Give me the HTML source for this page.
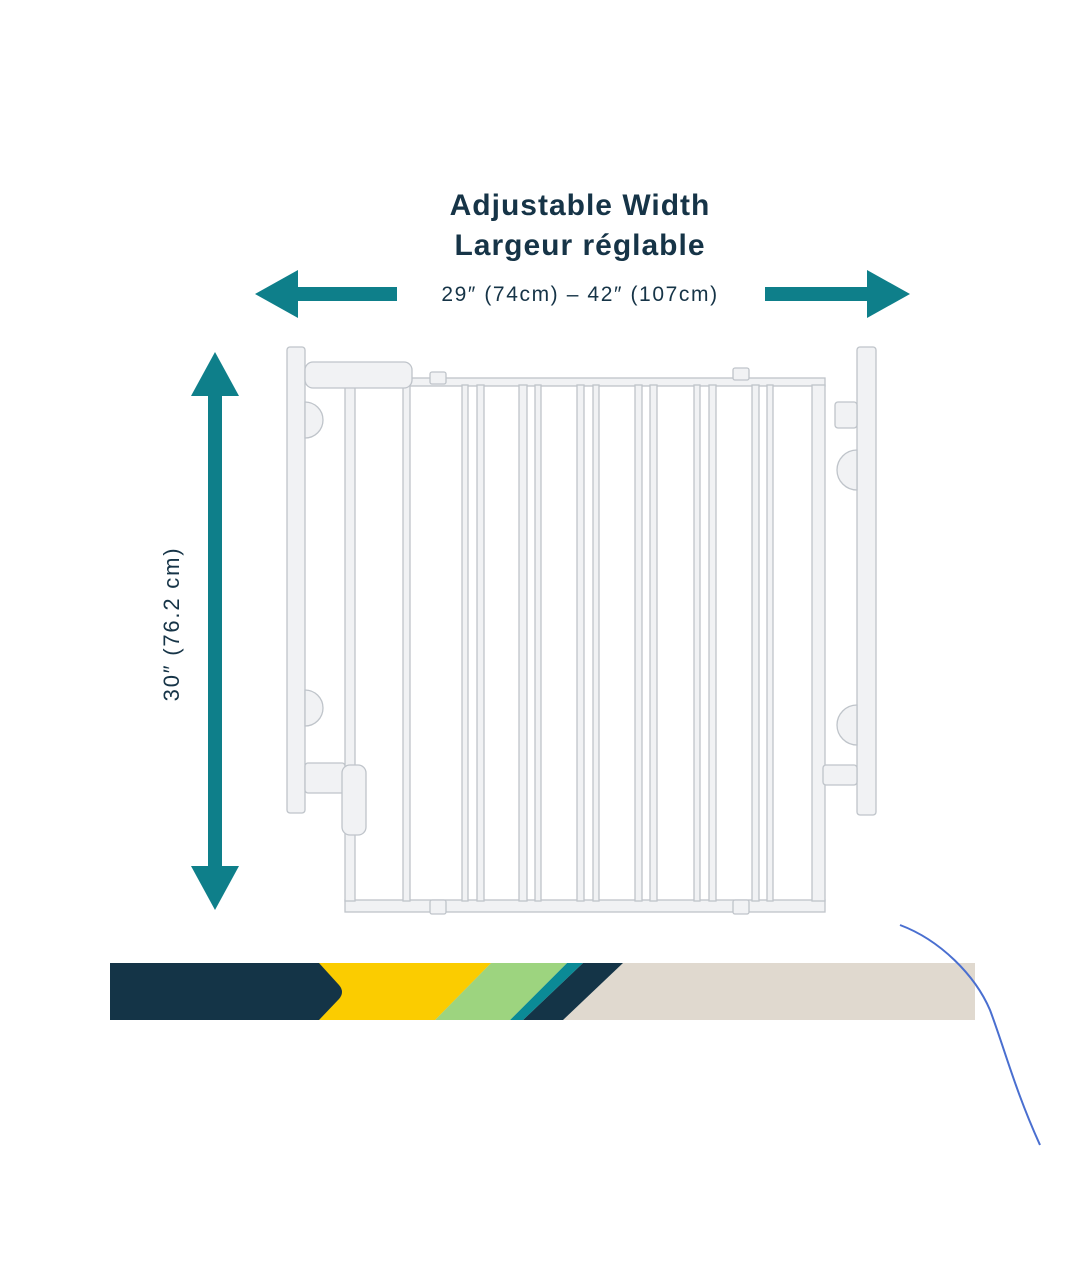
<!DOCTYPE html>
<html><head><meta charset="utf-8"><style>
html,body{margin:0;padding:0;background:#fff;}
body{width:1079px;height:1266px;position:relative;overflow:hidden;font-family:"Liberation Sans",sans-serif;}
</style></head><body>
<svg width="1079" height="1266" viewBox="0 0 1079 1266" xmlns="http://www.w3.org/2000/svg">
<text x="580" y="215" text-anchor="middle" font-family="Liberation Sans, sans-serif" font-weight="bold" font-size="30" letter-spacing="1" fill="#163447">Adjustable Width</text>
<text x="580" y="255" text-anchor="middle" font-family="Liberation Sans, sans-serif" font-weight="bold" font-size="30" letter-spacing="1" fill="#163447">Largeur réglable</text>
<text x="580" y="301" text-anchor="middle" font-family="Liberation Sans, sans-serif" font-size="21" letter-spacing="1.6" fill="#163447">29″ (74cm) – 42″ (107cm)</text>
<g fill="#0e7f8a">
<rect x="294" y="287" width="103" height="14"/>
<polygon points="255,294 298,270 298,318"/>
<rect x="765" y="287" width="104" height="14"/>
<polygon points="910,294 867,270 867,318"/>
<rect x="208" y="392" width="14" height="478"/>
<polygon points="215,352 191,396 239,396"/>
<polygon points="215,910 191,866 239,866"/>
</g>
<text transform="translate(179,624) rotate(-90)" text-anchor="middle" font-family="Liberation Sans, sans-serif" font-size="22" letter-spacing="1.8" fill="#163447">30″ (76.2 cm)</text>
<g fill="#f1f2f4" stroke="#bfc4ca" stroke-width="1.3">
<rect x="345" y="378" width="480" height="8"/>
<rect x="345" y="900" width="480" height="12"/>
<rect x="345" y="385" width="10" height="516"/>
<rect x="403" y="385" width="7" height="516"/>
<rect x="462" y="385" width="6" height="516"/>
<rect x="477" y="385" width="7" height="516"/>
<rect x="519" y="385" width="8" height="516"/>
<rect x="535" y="385" width="6" height="516"/>
<rect x="577" y="385" width="7" height="516"/>
<rect x="593" y="385" width="6" height="516"/>
<rect x="635" y="385" width="7" height="516"/>
<rect x="650" y="385" width="7" height="516"/>
<rect x="694" y="385" width="6" height="516"/>
<rect x="709" y="385" width="7" height="516"/>
<rect x="752" y="385" width="7" height="516"/>
<rect x="767" y="385" width="6" height="516"/>
<rect x="812" y="385" width="13" height="516"/>
<rect x="287" y="347" width="18" height="466" rx="3"/>
<rect x="305" y="362" width="107" height="26" rx="8"/>
<rect x="857" y="347" width="19" height="468" rx="3"/>
<rect x="835" y="402" width="22" height="26" rx="3"/>
<rect x="823" y="765" width="34" height="20" rx="3"/>
<rect x="305" y="763" width="40" height="30" rx="3"/>
<rect x="342" y="765" width="24" height="70" rx="8"/>
<path d="M305,402 a15,15 0 0 1 0,36 z"/>
<path d="M305,690 a15,15 0 0 1 0,36 z"/>
<path d="M857,450 a15,15 0 0 0 0,40 z"/>
<path d="M857,705 a15,15 0 0 0 0,40 z"/>
<rect x="430" y="372" width="16" height="12" rx="2"/>
<rect x="430" y="900" width="16" height="14" rx="2"/>
<rect x="733" y="368" width="16" height="12" rx="2"/>
<rect x="733" y="900" width="16" height="14" rx="2"/>
</g>
<rect x="110" y="963" width="865" height="57" fill="#e0d9cf"/>
<polygon points="583,963 623,963 563,1020 523,1020" fill="#143447"/>
<polygon points="567,963 583,963 523,1020 510,1020" fill="#0b8a96"/>
<polygon points="491,963 567,963 510,1020 435,1020" fill="#9dd47f"/>
<polygon points="319,963 491,963 435,1020 319,1020" fill="#fbcc00"/>
<path d="M110,963 L319,963 L339,985 Q345,992 339,999 L319,1020 L110,1020 Z" fill="#143447"/>
<path d="M900,925 C940,940 975,975 990,1010 C1005,1050 1015,1090 1040,1145" fill="none" stroke="#4a6fd0" stroke-width="2"/>
</svg>
</body></html>
